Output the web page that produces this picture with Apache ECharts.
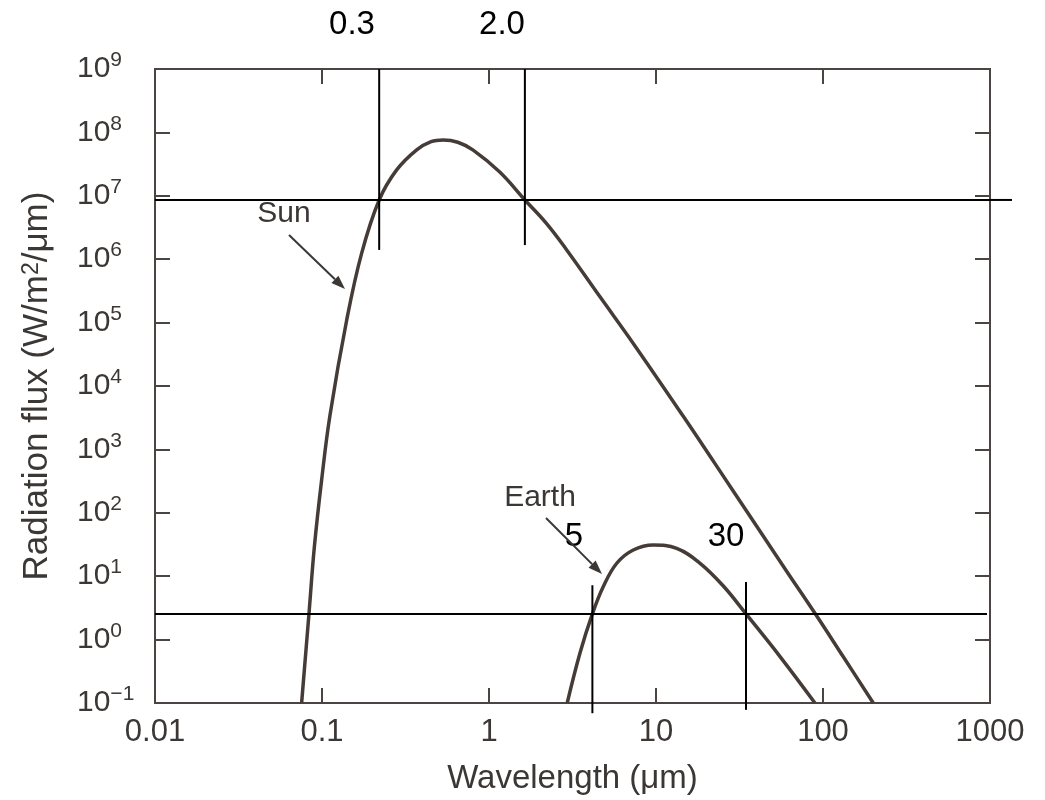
<!DOCTYPE html>
<html>
<head>
<meta charset="utf-8">
<title>Radiation flux</title>
<script src="https://cdn.jsdelivr.net/npm/echarts@6/dist/echarts.min.js"></script>
<style>
html, body { margin: 0; padding: 0; background: #fff; }
#chart { width: 1045px; height: 800px; }
</style>
</head>
<body>
<div id="chart"></div>
<script>
// values (wavelength in um, flux in W/m2/um)
var sunWavelength = [0.0755, 0.0836, 0.090, 0.0995, 0.1117, 0.1406, 0.173, 0.22, 0.28, 0.369, 0.45, 0.532, 0.65, 0.80, 1.16, 1.64, 2.2, 2.92, 4.62, 7.31, 14.6, 22.3, 40, 60.7, 89.5, 132, 200];
var sunFlux = [0.1, 2.6, 29, 330, 3500, 1.1e5, 1.26e6, 8.6e6, 2.56e7, 5.3e7, 7.15e7, 7.6e7, 7.0e7, 5.3e7, 2.37e7, 8.6e6, 3.7e6, 1.4e6, 2.55e5, 4.7e4, 3.3e3, 624, 62, 11.9, 2.6, 0.54, 0.1];

var earthWavelength = [2.94, 3.51, 4.16, 4.83, 5.82, 7.31, 9.64, 13.3, 18.3, 25.3, 34.6, 55.3, 89.5];
var earthFlux = [0.1, 0.62, 2.54, 6.8, 16, 25.9, 31, 27.5, 16.1, 7.0, 2.54, 0.54, 0.1];

// cut-off lines: horizontal [flux, fromWavelength, toWavelength]
var sunBand = [8.6e6, 0.01, 1355];
var earthBand = [2.54, 0.01, 960];
// vertical [wavelength, topFlux, bottomFlux]
var sunCuts = [[0.22, 1e9, 1.4e6], [1.64, 1e9, 1.67e6]];
var earthCuts = [[4.16, 7.2, 0.069], [34.6, 8.1, 0.078]];

var xTickLabels = ['0.01', '0.1', '1', '10', '100', '1000'];
var yTickExponents = ['\u22121', '0', '1', '2', '3', '4', '5', '6', '7', '8', '9'];
var cutLabels = ['0.3', '2.0', '5', '30'];

var FONT = '"Liberation Sans", Arial, Helvetica, sans-serif';
var INK = '#3b3735';
var FRAME = '#4a4543';
var CURVE = '#453c38';

function pairs(xs, ys) {
	var out = [];
	for (var i = 0; i < xs.length; i++) {
		out.push([xs[i], ys[i]]);
	}
	return out;
}

function cutSeries(data) {
	return {
		type: 'line',
		data: data,
		showSymbol: false,
		clip: false,
		silent: true,
		lineStyle: { color: '#000', width: 2 },
		z: 5
	};
}

function arrow(x1, y1, x2, y2) {
	var dx = x2 - x1, dy = y2 - y1;
	var len = Math.sqrt(dx * dx + dy * dy);
	var ux = dx / len, uy = dy / len;
	var head = 14, half = 5;
	var bx = x2 - ux * head, by = y2 - uy * head;
	return {
		type: 'group',
		children: [
			{ type: 'line', shape: { x1: x1, y1: y1, x2: bx, y2: by }, style: { stroke: INK, lineWidth: 2 } },
			{ type: 'polygon', shape: { points: [[x2, y2], [bx - uy * half, by + ux * half], [bx + uy * half, by - ux * half]] }, style: { fill: INK } }
		]
	};
}

function label(text, x, y, size, color) {
	return {
		type: 'text',
		x: x,
		y: y,
		style: { text: text, font: size + 'px ' + FONT, fill: color, align: 'center', verticalAlign: 'middle' }
	};
}

function drowChart() {
	var myChart = echarts.init(document.getElementById('chart'));

	var series = [
		{
			name: 'Sun',
			type: 'line',
			data: pairs(sunWavelength, sunFlux),
			showSymbol: false,
			smooth: 0.4,
			lineStyle: { color: CURVE, width: 3.5 },
			z: 3
		},
		{
			name: 'Earth',
			type: 'line',
			data: pairs(earthWavelength, earthFlux),
			showSymbol: false,
			smooth: 0.4,
			lineStyle: { color: CURVE, width: 3.5 },
			z: 3
		},
		cutSeries([[sunBand[1], sunBand[0]], [1000, sunBand[0]]]),
		cutSeries([[earthBand[1], earthBand[0]], [earthBand[2], earthBand[0]]])
	];
	sunCuts.concat(earthCuts).forEach(function (c) {
		series.push(cutSeries([[c[0], c[1]], [c[0], c[2]]]));
	});

	var tickStyle = { show: true, inside: true, length: 15, lineStyle: { color: FRAME, width: 2 } };

	option = {
		animation: false,
		backgroundColor: '#fff',
		grid: {
			left: 155,
			right: 55,
			top: 69,
			bottom: 97,
			show: true,
			borderColor: FRAME,
			borderWidth: 2
		},
		xAxis: [
			{
				type: 'log',
				logBase: 10,
				min: 0.01,
				max: 1000,
				splitNumber: 5,
				name: 'Wavelength (\u03bcm)',
				nameLocation: 'middle',
				nameGap: 59,
				nameTextStyle: { fontFamily: FONT, fontSize: 33, color: INK },
				axisLine: { show: true, lineStyle: { color: FRAME, width: 2 } },
				axisTick: tickStyle,
				splitLine: { show: false },
				minorTick: { show: false },
				axisLabel: {
					margin: 14,
					fontFamily: FONT,
					fontSize: 31,
					color: INK,
					formatter: function (v) {
						return xTickLabels[Math.round(Math.log10(v)) + 2];
					}
				}
			},
			{
				type: 'log',
				logBase: 10,
				min: 0.01,
				max: 1000,
				splitNumber: 5,
				position: 'top',
				axisLine: { show: false },
				axisTick: tickStyle,
				axisLabel: { show: false },
				splitLine: { show: false }
			}
		],
		yAxis: [
			{
				type: 'log',
				logBase: 10,
				min: 0.1,
				max: 1e9,
				splitNumber: 10,
				name: 'Radiation flux (W/m{sup|2}/\u03bcm)',
				nameLocation: 'middle',
				nameGap: 100,
				nameTextStyle: {
					fontFamily: FONT,
					fontSize: 35,
					color: INK,
					rich: {
						sup: { fontFamily: FONT, fontSize: 23, color: INK, verticalAlign: 'top', lineHeight: 20 }
					}
				},
				axisLine: { show: true, lineStyle: { color: FRAME, width: 2 } },
				axisTick: tickStyle,
				splitLine: { show: false },
				minorTick: { show: false },
				axisLabel: {
					align: 'left',
					margin: 78,
					formatter: function (v) {
						var e = Math.round(Math.log10(v));
						return '{b|10}{s|' + yTickExponents[e + 1] + '}';
					},
					rich: {
						b: { fontFamily: FONT, fontSize: 30, color: INK, lineHeight: 38 },
						s: { fontFamily: FONT, fontSize: 21, color: INK, lineHeight: 18, verticalAlign: 'top' }
					}
				}
			},
			{
				type: 'log',
				logBase: 10,
				min: 0.1,
				max: 1e9,
				splitNumber: 10,
				position: 'right',
				axisLine: { show: false },
				axisTick: tickStyle,
				axisLabel: { show: false },
				splitLine: { show: false }
			}
		],
		series: series
	};

	myChart.setOption(option);

	// the sun cut-off line runs past the right frame; extend it along the log scale
	var finder = { xAxisIndex: 0, yAxisIndex: 0 };
	var pEnd = myChart.convertToPixel(finder, [1000, sunBand[0]]);
	var pDec = myChart.convertToPixel(finder, [100, sunBand[0]]);
	var xOut = pEnd[0] + (pEnd[0] - pDec[0]) * Math.log10(sunBand[2] / 1000);

	myChart.setOption({
		graphic: [
			label(cutLabels[0], 352, 25, 33, '#000'),
			label(cutLabels[1], 502, 25, 33, '#000'),
			label(cutLabels[2], 574, 537, 33, '#000'),
			label(cutLabels[3], 726, 537, 33, '#000'),
			label('Sun', 284, 214, 30, INK),
			label('Earth', 540, 498, 30, INK),
			arrow(289, 235, 345, 289),
			arrow(546, 518, 602, 574),
			{
				type: 'line',
				z: 5,
				shape: { x1: pEnd[0], y1: pEnd[1], x2: xOut, y2: pEnd[1] },
				style: { stroke: '#000', lineWidth: 2 }
			}
		]
	});
}

drowChart();
</script>
</body>
</html>
